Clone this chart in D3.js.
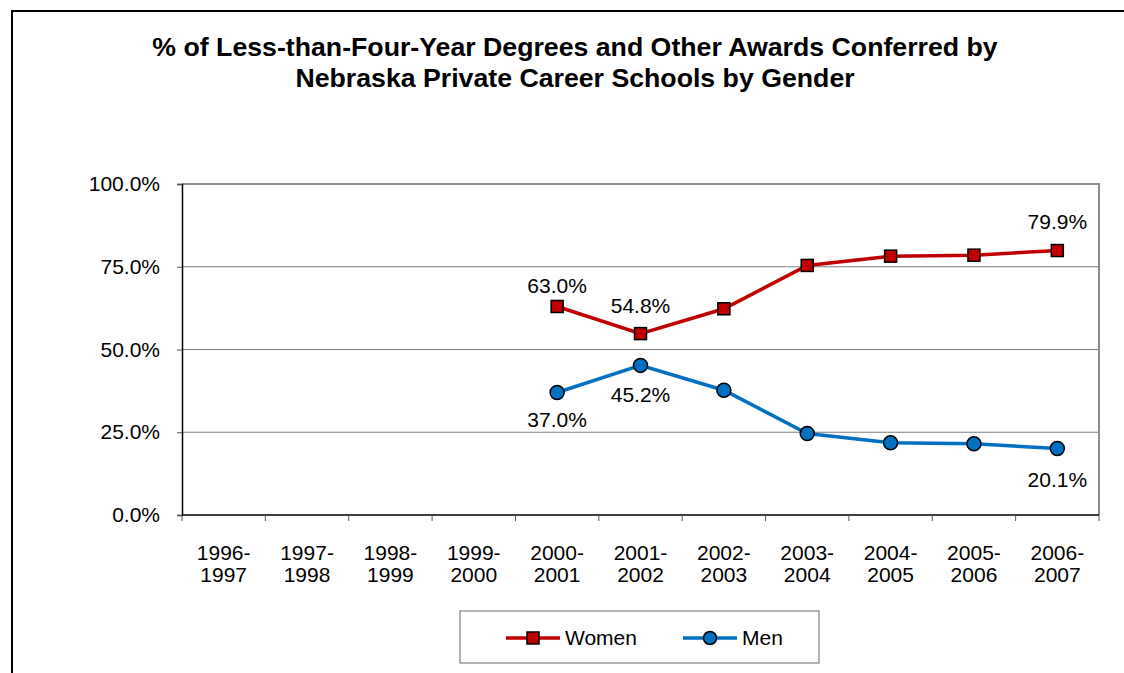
<!DOCTYPE html>
<html><head><meta charset="utf-8">
<script src="https://cdn.jsdelivr.net/npm/d3@7"></script>
<style>body{margin:0;background:#fff}svg{display:block;font-family:"Liberation Sans",Arial,sans-serif}</style>
</head><body>
<script>
const categories = ["1996-1997","1997-1998","1998-1999","1999-2000","2000-2001","2001-2002","2002-2003","2003-2004","2004-2005","2005-2006","2006-2007"];
const women = [null,null,null,null,63.0,54.8,62.3,75.4,78.2,78.5,79.9];
const men   = [null,null,null,null,37.0,45.2,37.7,24.6,21.8,21.5,20.1];
const yTicks = [0,25,50,75,100];
const titleLines = ["% of Less-than-Four-Year Degrees and Other Awards Conferred by","Nebraska Private Career Schools by Gender"];
const womenLabeled = {"2000-2001":-13,"2001-2002":-21,"2006-2007":-22};
const menLabeled = {"2000-2001":34,"2001-2002":37,"2006-2007":39};

const W=1124,H=673;
const svg=d3.select("body").append("svg").attr("width",W).attr("height",H);
svg.append("rect").attr("x",12).attr("y",11).attr("width",W+20).attr("height",H+20).attr("fill","#fff").attr("stroke","#000").attr("stroke-width",2);

const L=182,R=1099,T=184,B=515;
const x=d3.scaleBand().domain(categories).range([L,R]);
const y=d3.scaleLinear().domain([0,100]).range([B,T]);

svg.append("g").selectAll("text").data(titleLines).join("text")
  .attr("x",575).attr("y",(d,i)=>56+i*31).attr("text-anchor","middle")
  .attr("font-size",26.7).attr("font-weight","bold").attr("fill","#000").text(d=>d);

// gridlines
svg.append("g").selectAll("line").data(yTicks.filter(t=>t>0&&t<100)).join("line")
  .attr("x1",L).attr("x2",R).attr("y1",d=>y(d)).attr("y2",d=>y(d)).attr("stroke","#7f7f7f").attr("stroke-width",1.2);
// plot border top/right
svg.append("path").attr("d",`M${L},${T}H${R}V${B}`).attr("fill","none").attr("stroke","#8c8c8c").attr("stroke-width",2);

// y axis
const yAxis=d3.axisLeft(y).tickValues(yTicks).tickSize(5).tickPadding(17).tickFormat(d=>d.toFixed(1)+"%");
const gy=svg.append("g").attr("transform",`translate(${L},0)`).call(yAxis);
gy.select(".domain").attr("stroke","#000").attr("stroke-width",1.5);
gy.selectAll(".tick line").attr("stroke","#555");
gy.selectAll("text").attr("font-size",21).attr("fill","#000").attr("font-family","Liberation Sans, Arial, sans-serif");

// x axis
const gx=svg.append("g").attr("transform",`translate(0,${B})`);
gx.append("line").attr("x1",L).attr("x2",R).attr("y1",0).attr("y2",0).attr("stroke","#000").attr("stroke-width",1.5);
const bounds=categories.map(c=>x(c)).concat([R]);
gx.selectAll("line.tk").data(bounds).join("line").attr("class","tk")
  .attr("x1",d=>d).attr("x2",d=>d).attr("y1",0).attr("y2",6).attr("stroke","#555");
const xl=gx.selectAll("text").data(categories).join("text")
  .attr("text-anchor","middle").attr("font-size",21).attr("fill","#000");
xl.append("tspan").attr("x",d=>x(d)+x.bandwidth()/2).attr("y",45).text(d=>d.split("-")[0]+"-");
xl.append("tspan").attr("x",d=>x(d)+x.bandwidth()/2).attr("y",67).text(d=>d.split("-")[1]);

const cx=c=>x(c)+x.bandwidth()/2;
const series=[
  {name:"Women",vals:women,color:"#C00000",shape:"square",labels:womenLabeled},
  {name:"Men",vals:men,color:"#0070C0",shape:"circle",labels:menLabeled}
];
series.forEach(s=>{
  const pts=categories.map((c,i)=>({c,v:s.vals[i]})).filter(d=>d.v!=null);
  svg.append("path").datum(pts).attr("fill","none").attr("stroke",s.color).attr("stroke-width",3.5)
    .attr("d",d3.line().x(d=>cx(d.c)).y(d=>y(d.v)));
  const g=svg.append("g");
  if(s.shape==="square"){
    g.selectAll("rect").data(pts).join("rect").attr("x",d=>cx(d.c)-6).attr("y",d=>y(d.v)-6)
      .attr("width",12).attr("height",12).attr("fill",s.color).attr("stroke","#000").attr("stroke-width",1.5);
  } else {
    g.selectAll("circle").data(pts).join("circle").attr("cx",d=>cx(d.c)).attr("cy",d=>y(d.v))
      .attr("r",7).attr("fill",s.color).attr("stroke","#000").attr("stroke-width",1.5);
  }
  svg.append("g").selectAll("text").data(pts.filter(d=>s.labels[d.c]!==undefined)).join("text")
    .attr("x",d=>cx(d.c)).attr("y",d=>y(d.v)+s.labels[d.c]).attr("text-anchor","middle")
    .attr("font-size",21).attr("fill","#000").text(d=>d.v.toFixed(1)+"%");
});

// legend
const lg=svg.append("g");
lg.append("rect").attr("x",460).attr("y",611).attr("width",359).attr("height",52).attr("fill","#fff").attr("stroke","#7f7f7f").attr("stroke-width",1.2);
const litems=[{s:series[0],x:506},{s:series[1],x:683}];
litems.forEach(it=>{
  const cy=638;
  lg.append("line").attr("x1",it.x).attr("x2",it.x+54).attr("y1",cy).attr("y2",cy).attr("stroke",it.s.color).attr("stroke-width",3.5);
  if(it.s.shape==="square") lg.append("rect").attr("x",it.x+27-6).attr("y",cy-6).attr("width",12).attr("height",12).attr("fill",it.s.color).attr("stroke","#000").attr("stroke-width",1.5);
  else lg.append("circle").attr("cx",it.x+27).attr("cy",cy).attr("r",6.5).attr("fill",it.s.color).attr("stroke","#000").attr("stroke-width",1.5);
  lg.append("text").attr("x",it.x+59).attr("y",cy+7).attr("font-size",21).attr("fill","#000").text(it.s.name);
});
</script>
</body></html>
